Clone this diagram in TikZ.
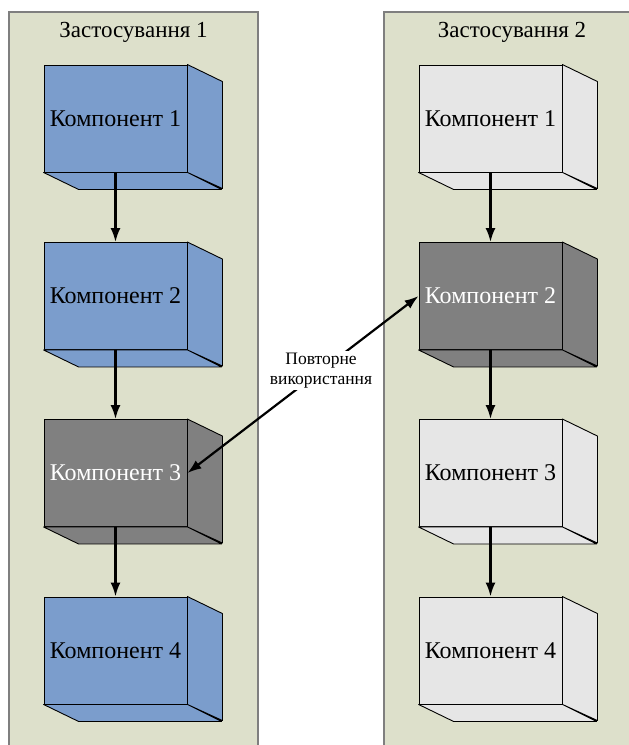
\documentclass[tikz,border=0pt]{standalone}
\usepackage{fontspec}
\setmainfont{Liberation Serif}
\usetikzlibrary{arrows.meta}

\definecolor{panelfill}{HTML}{DDE0CB}
\definecolor{panelline}{HTML}{7F7F7F}
\definecolor{compblue}{HTML}{7B9DCC}
\definecolor{compdark}{HTML}{808080}
\definecolor{complight}{HTML}{E6E6E6}

\tikzset{
  panel/.style={fill=panelfill, draw=panelline, line width=1.2pt},
  paneltitle/.style={font=\fontsize{23}{27}\selectfont, inner sep=0pt},
  comp/.style={draw=black, line width=0.9pt, minimum width=143pt,
    minimum height=107pt, inner sep=0pt, font=\fontsize{24}{28}\selectfont},
  bluecomp/.style={comp, fill=compblue, text=black},
  darkcomp/.style={comp, fill=compdark, text=white},
  lightcomp/.style={comp, fill=complight, text=black},
  flow/.style={-{Latex[length=14pt,width=10pt]}, line width=2.2pt},
  reuse/.style={{Latex[length=14pt,width=10pt]}-{Latex[length=14pt,width=10pt]}, line width=2.2pt},
  reuselabel/.style={fill=white, align=center, inner sep=2pt,
    font=\fontsize{17.5}{20}\selectfont},
}

% side and bottom faces of a component box
\newcommand\cubesides[2]{%
  \draw[draw=black, line width=0.9pt, fill=#2, line join=round]
    (#1.north east) -- ++(35,17) -- ++(0,107) -- (#1.south east) -- cycle
    (#1.south west) -- ++(35,17) -- ++(143,0) -- (#1.south east) -- cycle;
}

\begin{document}
\begin{tikzpicture}[x=1pt, y=-1pt]
  \useasboundingbox (0,0) rectangle (629,745);

  % application panels
  \path[panel] (9,12) rectangle (258,760);
  \path[panel] (384,12) rectangle (640,760);
  \node[paneltitle] (t1) at (133.5,32) {Застосування 1};
  \node[paneltitle] (t2) at (512,32) {Застосування 2};

  % application 1
  \node[bluecomp] (a1) at (115.5,118.5) {Компонент 1};
  \node[bluecomp] (a2) at (115.5,296) {Компонент 2};
  \node[darkcomp] (a3) at (115.5,473) {Компонент 3};
  \node[bluecomp] (a4) at (115.5,650.5) {Компонент 4};
  \cubesides{a1}{compblue}
  \cubesides{a2}{compblue}
  \cubesides{a3}{compdark}
  \cubesides{a4}{compblue}

  % application 2
  \node[lightcomp] (b1) at (490.5,118.5) {Компонент 1};
  \node[darkcomp] (b2) at (490.5,296) {Компонент 2};
  \node[lightcomp] (b3) at (490.5,473) {Компонент 3};
  \node[lightcomp] (b4) at (490.5,650.5) {Компонент 4};
  \cubesides{b1}{complight}
  \cubesides{b2}{compdark}
  \cubesides{b3}{complight}
  \cubesides{b4}{complight}

  % control flow
  \draw[flow] (a1) -- (a2);
  \draw[flow] (a2) -- (a3);
  \draw[flow] (a3) -- (a4);
  \draw[flow] (b1) -- (b2);
  \draw[flow] (b2) -- (b3);
  \draw[flow] (b3) -- (b4);

  % shared component
  \draw[reuse] (a3.east) -- node[reuselabel, pos=0.578] (reuse) {Повторне\\використання} (b2.west);
\end{tikzpicture}
\end{document}
